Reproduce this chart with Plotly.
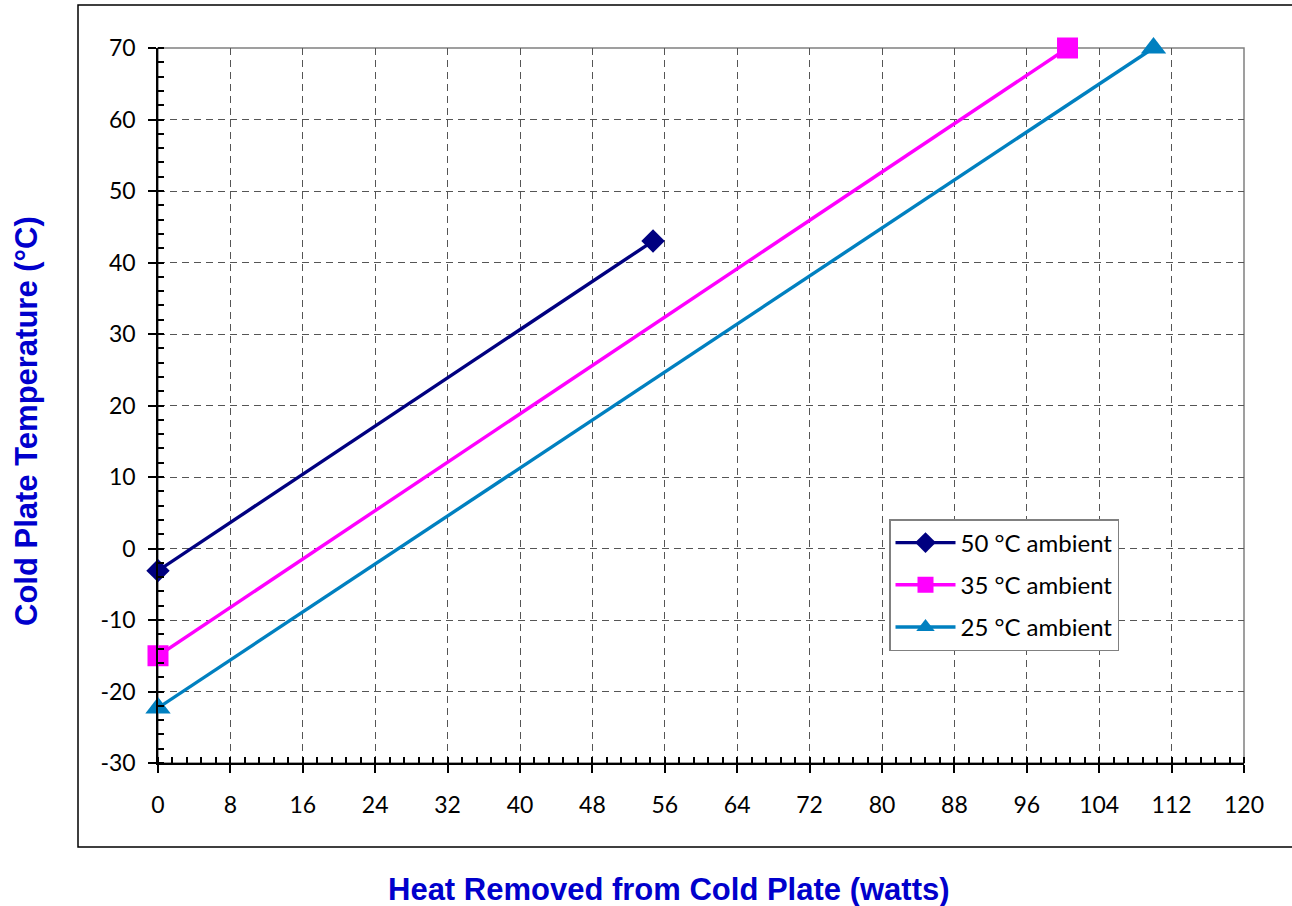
import plotly.graph_objects as go

series_names = ["50 °C ambient", "35 °C ambient", "25 °C ambient"]
x_50 = [0, 54.7]
y_50 = [-3.1, 43]
x_35 = [0, 100.5]
y_35 = [-15, 70]
x_25 = [0, 110]
y_25 = [-22.3, 70]

x_ticks = [0, 8, 16, 24, 32, 40, 48, 56, 64, 72, 80, 88, 96, 104, 112, 120]
y_ticks = [-30, -20, -10, 0, 10, 20, 30, 40, 50, 60, 70]
y_ticktext = ["-30", "-20", "-10", "0", "10", "20", "30", "40", "50", "60", "70"]

colors = ["#000080", "#FF00FF", "#0080C0"]
symbols = ["diamond", "square", "triangle-up"]
msizes = [18, 21, 22]

W, H = 1292, 906
L, R, T, B = 158, 1244, 48, 763
pw, ph = R - L, B - T


def px(x):
    return (x - L) / pw


def py(y):
    return (B - y) / ph


fig = go.Figure()
for i, (name, xs, ys, c, s, ms) in enumerate(zip(series_names, [x_50, x_35, x_25], [y_50, y_35, y_25], colors, symbols, msizes)):
    fig.add_trace(go.Scatter(x=xs, y=ys, mode="lines+markers", name=name,
                             legendgroup="g%d" % i,
                             line=dict(color=c, width=3.4),
                             marker=dict(symbol=s, size=ms, color=c),
                             cliponaxis=False))

tickfont = dict(family="Lato, Noto Sans, sans-serif", size=23, color="black")
fig.update_layout(
    width=W, height=H,
    margin=dict(l=L, r=W - R, t=T, b=H - B),
    paper_bgcolor="white", plot_bgcolor="white",
    showlegend=True,
    legend=dict(x=px(889), y=py(519), xanchor="left", yanchor="top",
                bordercolor="#808080", borderwidth=1.5, bgcolor="white",
                font=dict(family="Lato, Noto Sans, sans-serif", size=24, color="black"),
                tracegroupgap=8, itemwidth=60),
    xaxis=dict(range=[0, 120], tickmode="array", tickvals=x_ticks,
               showline=True, linecolor="black", linewidth=1.5,
               ticks="outside", ticklen=8, tickcolor="black", tickwidth=1.5,
               ticklabelstandoff=13,
               showgrid=True, gridcolor="#555555", griddash="7px,5px", gridwidth=1,
               zeroline=False, tickfont=tickfont,
               minor=dict(ticks="inside", ticklen=6, dtick=1.6, tick0=0, tickcolor="black", showgrid=False)),
    yaxis=dict(range=[-30, 70], tickmode="array", tickvals=y_ticks, ticktext=y_ticktext,
               showline=True, linecolor="black", linewidth=1.5,
               ticks="outside", ticklen=8, tickcolor="black", tickwidth=1.5,
               ticklabelstandoff=8,
               showgrid=True, gridcolor="#555555", griddash="7px,5px", gridwidth=1,
               zeroline=False, tickfont=tickfont,
               minor=dict(ticks="inside", ticklen=6, dtick=2, tick0=0, tickcolor="black", showgrid=False)),
)

# plot area border (gray)
fig.add_shape(type="rect", xref="paper", yref="paper", x0=0, x1=1, y0=0, y1=1,
              line=dict(color="#808080", width=1.5), layer="below")
# outer chart border
fig.add_shape(type="rect", xref="paper", yref="paper",
              x0=px(78), x1=px(1310), y0=py(847), y1=py(5),
              line=dict(color="black", width=1.5))

title_font = dict(family="Liberation Sans, Arial, sans-serif", size=31, color="#0000CC")
fig.add_annotation(text="<b>Heat Removed from Cold Plate (watts)</b>", xref="paper", yref="paper",
                   x=px(669), y=py(889), showarrow=False, font=title_font,
                   xanchor="center", yanchor="middle")
fig.add_annotation(text="<b>Cold Plate Temperature (°C)</b>", xref="paper", yref="paper",
                   x=px(27), y=py(421), showarrow=False, font=title_font,
                   textangle=-90, xanchor="center", yanchor="middle")

fig.write_html("out.html", config={"displayModeBar": False},
               post_script="document.body.style.margin='0px';")
